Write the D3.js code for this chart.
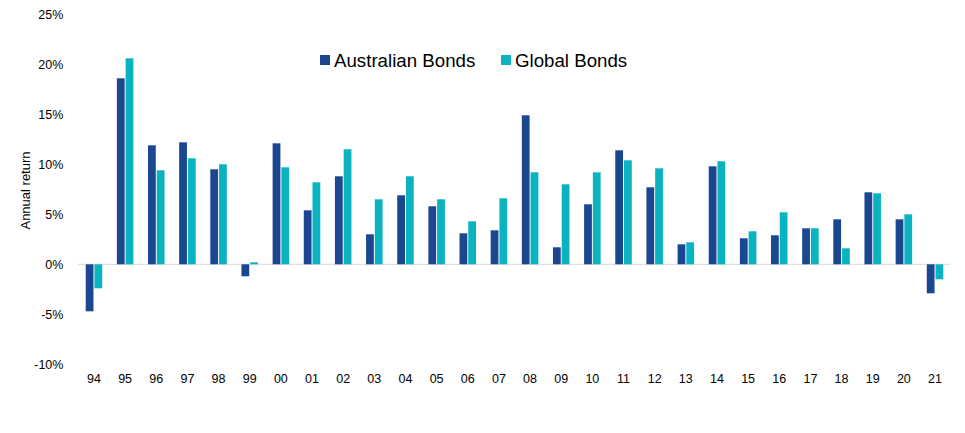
<!DOCTYPE html>
<html>
<head>
<meta charset="utf-8">
<script src="https://cdn.jsdelivr.net/npm/d3@7"></script>
<style>
  body { margin: 0; background: #fff; }
  text { font-family: "Liberation Sans", Arial, sans-serif; fill: #000; }
</style>
</head>
<body>
<div id="canvas"></div>
<script>
const years = ["94", "95", "96", "97", "98", "99", "00", "01", "02", "03", "04", "05", "06", "07",
               "08", "09", "10", "11", "12", "13", "14", "15", "16", "17", "18", "19", "20", "21"];
const australianBonds = [-4.7, 18.6, 11.9, 12.2, 9.5, -1.2, 12.1, 5.4, 8.8, 3.0, 6.9, 5.8, 3.1, 3.4,
                         14.9, 1.7, 6.0, 11.4, 7.7, 2.0, 9.8, 2.6, 2.9, 3.6, 4.5, 7.2, 4.5, -2.9];
const globalBonds = [-2.4, 20.6, 9.4, 10.6, 10.0, 0.2, 9.7, 8.2, 11.5, 6.5, 8.8, 6.5, 4.3, 6.6,
                     9.2, 8.0, 9.2, 10.4, 9.6, 2.2, 10.3, 3.3, 5.2, 3.6, 1.6, 7.1, 5.0, -1.5];
const seriesNames = ["Australian Bonds", "Global Bonds"];
const colors = ["#1b4690", "#0ab3c0"];
const yTicks = [-10, -5, 0, 5, 10, 15, 20, 25];

const width = 965;
const height = 433;
const margin = { top: 14.3, left: 78.4, bottom: 68.7, right: 14.4 };
const iwidth = width - margin.left - margin.right;
const iheight = height - margin.top - margin.bottom;

const svg = d3.select("#canvas").append("svg")
    .attr("width", width)
    .attr("height", height);

const g = svg.append("g").attr("transform", `translate(${margin.left},${margin.top})`);

const y = d3.scaleLinear()
    .domain([-10, 25])
    .range([iheight, 0]);

const x0 = d3.scaleBand()
    .domain(years)
    .range([0, iwidth])
    .paddingInner(0.47)
    .paddingOuter(0.235);

const x1 = d3.scaleBand()
    .domain(seriesNames)
    .range([0, x0.bandwidth()])
    .paddingInner(0.11);

const rows = years.map((yr, i) => ({ year: yr, values: [australianBonds[i], globalBonds[i]] }));

// zero line
g.append("line")
    .attr("x1", 0).attr("x2", iwidth)
    .attr("y1", y(0)).attr("y2", y(0))
    .attr("stroke", "#d9d9d9")
    .attr("stroke-width", 1);

const groups = g.selectAll("g.year").data(rows).enter().append("g")
    .attr("class", "year")
    .attr("transform", d => `translate(${x0(d.year)},0)`);

groups.selectAll("rect")
    .data(d => d.values.map((v, k) => ({ series: seriesNames[k], value: v, k: k })))
    .enter().append("rect")
    .attr("x", d => x1(d.series))
    .attr("width", x1.bandwidth())
    .attr("y", d => y(Math.max(0, d.value)))
    .attr("height", d => Math.abs(y(d.value) - y(0)))
    .style("fill", d => colors[d.k]);

// y axis
const yAxis = g.append("g")
    .attr("transform", "translate(-12,0)")
    .call(d3.axisLeft(y).tickValues(yTicks).tickFormat(d => d + "%").tickSize(0));
yAxis.select(".domain").remove();
yAxis.selectAll("text")
    .style("font-size", "12.5px")
    .style("font-family", "Liberation Sans, Arial, sans-serif")
    .attr("fill", "#000");

// x axis
const xAxis = g.append("g")
    .attr("transform", `translate(0,${iheight})`)
    .call(d3.axisBottom(x0).tickSize(0).tickPadding(10));
xAxis.select(".domain").remove();
xAxis.selectAll("text")
    .style("font-size", "12.5px")
    .style("font-family", "Liberation Sans, Arial, sans-serif")
    .attr("fill", "#000");

// y title
svg.append("text")
    .attr("transform", "translate(30,190.5) rotate(-90)")
    .attr("text-anchor", "middle")
    .style("font-size", "13px")
    .text("Annual return");

// legend
const legendX = [320, 501];
const legend = svg.selectAll("g.legend").data(seriesNames).enter().append("g")
    .attr("class", "legend")
    .attr("transform", (d, i) => `translate(${legendX[i]},55)`);
legend.append("rect")
    .attr("width", 10).attr("height", 10)
    .style("fill", (d, i) => colors[i]);
legend.append("text")
    .attr("x", 14).attr("y", 5)
    .attr("dy", "0.35em")
    .style("font-size", "18.7px")
    .text(d => d);
</script>
</body>
</html>
